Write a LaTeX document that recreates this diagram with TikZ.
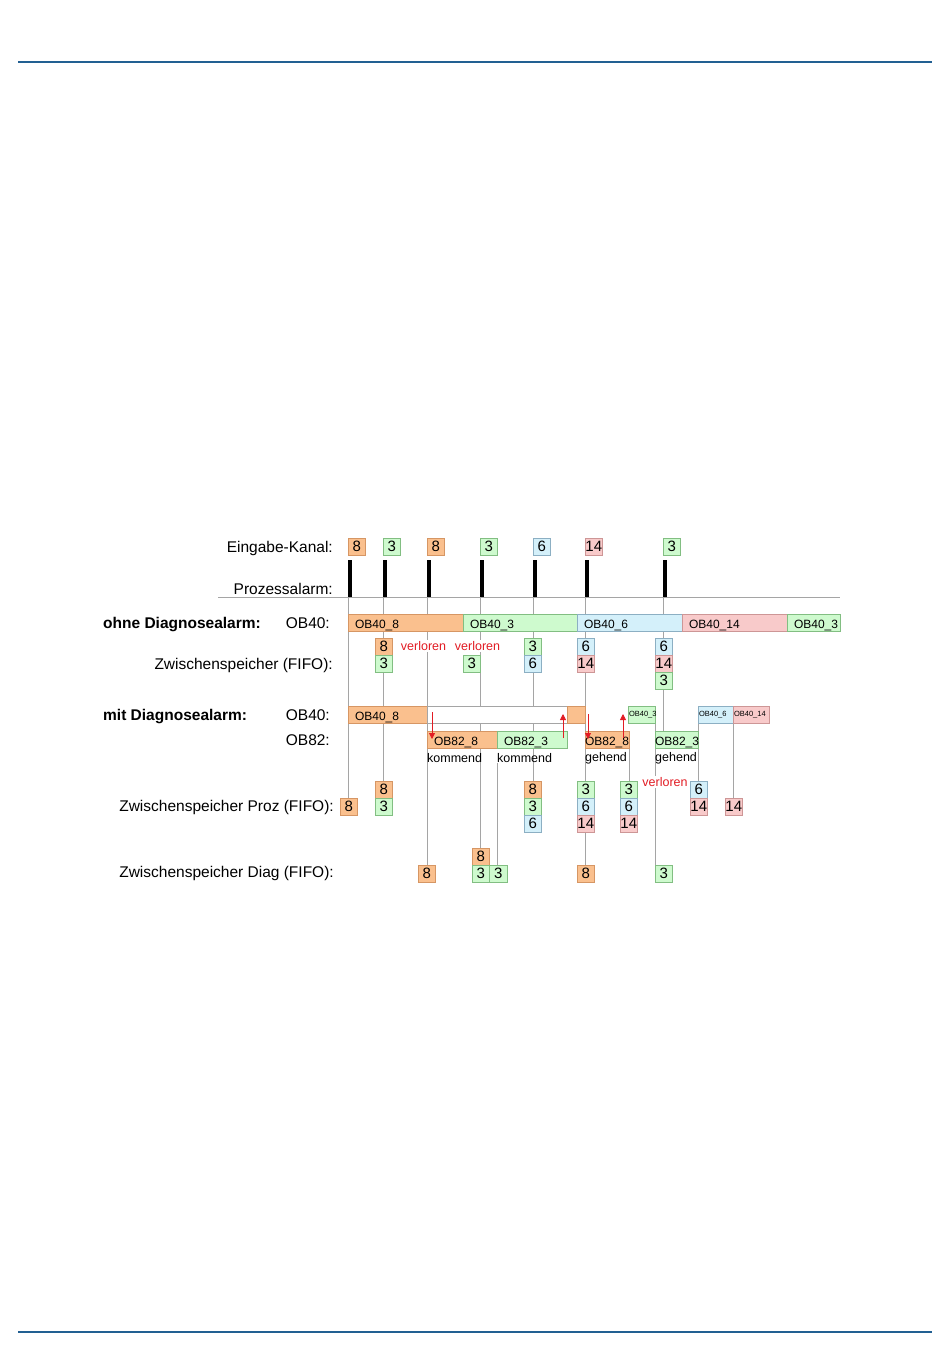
\documentclass[tikz,border=0pt]{standalone}
\usepackage{fontspec}
\setmainfont{Liberation Sans}
\usetikzlibrary{arrows.meta, positioning, backgrounds}
\definecolor{orgF}{RGB}{250,192,142}
\definecolor{orgD}{RGB}{214,150,100}
\definecolor{grnF}{RGB}{206,250,206}
\definecolor{grnD}{RGB}{130,190,130}
\definecolor{bluF}{RGB}{212,240,250}
\definecolor{bluD}{RGB}{140,175,195}
\definecolor{pnkF}{RGB}{248,202,202}
\definecolor{pnkD}{RGB}{205,150,150}
\definecolor{guideC}{RGB}{165,165,165}
\definecolor{lostC}{RGB}{226,28,36}
\definecolor{ruleC}{RGB}{34,96,146}

\begin{document}
\begin{tikzpicture}[x=1pt, y=-1pt, >={Triangle[length=6pt, width=6pt]},
  lbl/.style={anchor=base east, inner sep=0pt, font=\fontsize{15.5}{15.5}\selectfont},
  head/.style={anchor=base west, inner sep=0pt, font=\bfseries\fontsize{15.5}{15.5}\selectfont},
  num/.style={draw, anchor=north west, minimum width=17.5pt, minimum height=17pt, inner sep=0pt, outer sep=0pt, font=\fontsize{15}{15}\selectfont},
  bar/.style={draw, anchor=north west, minimum height=17pt, inner ysep=0pt, inner xsep=7pt, outer sep=0pt, align=left, text height=12pt, text depth=1pt, font=\fontsize{12}{12}\selectfont},
  tiny/.style={bar, inner xsep=1pt, text height=5.5pt, text depth=1.6pt, font=\fontsize{7.5}{7.5}\selectfont},
  gapbox/.style={draw=guideC, fill=white, minimum height=17pt, inner sep=0pt, outer sep=0pt},
  note/.style={anchor=west, inner sep=0pt, font=\fontsize{12.5}{12.5}\selectfont},
  lost/.style={note, anchor=center, text=lostC, fill=white, inner sep=1pt},
  org/.style={fill=orgF, draw=orgD}, grn/.style={fill=grnF, draw=grnD},
  blu/.style={fill=bluF, draw=bluD}, pnk/.style={fill=pnkF, draw=pnkD},
  tick/.style={line width=4pt},
  guide/.style={draw=guideC, line width=0.9pt},
  trig/.style={draw=lostC, line width=0.8pt, ->}]
\useasboundingbox (0,0) rectangle (950,1369);
\draw[ruleC, line width=2.5pt] (18,62) -- (932,62);
\draw[ruleC, line width=2.5pt] (18,1332) -- (932,1332);

% time marks
\coordinate (ax0) at (218,597); \coordinate (ax1) at (840,597);
\coordinate (t1) at (348,597); \coordinate (t2) at (383,597); \coordinate (t3) at (427,597);
\coordinate (t4) at (480,597); \coordinate (t5) at (533,597); \coordinate (t6) at (585,597);
\coordinate (t7) at (663,597);

% labels
\node[lbl] (lEin) at (333,552) {Eingabe-Kanal:};
\node[lbl] (lPro) at (333,594) {Prozessalarm:};
\node[head] (hOhne) at (103,628) {ohne Diagnosealarm:};
\node[lbl] (lObA) at (330,628) {OB40:};
\node[lbl] (lFifo) at (333,669) {Zwischenspeicher (FIFO):};
\node[head] (hMit) at (103,720) {mit Diagnosealarm:};
\node[lbl] (lObB) at (330,720) {OB40:};
\node[lbl] (lObC) at (330,745) {OB82:};
\node[lbl] (lProz) at (334,811) {Zwischenspeicher Proz (FIFO):};
\node[lbl] (lDiag) at (334,877) {Zwischenspeicher Diag (FIFO):};

% input channel
\node[num, org] (e1) at (348,538) {8};
\node[num, grn] (e2) at (383,538) {3};
\node[num, org] (e3) at (427,538) {8};
\node[num, grn] (e4) at (480,538) {3};
\node[num, blu] (e5) at (533,538) {6};
\node[num, pnk] (e6) at (585,538) {14};
\node[num, grn] (e7) at (663,538) {3};
\draw[tick] ([xshift=2pt, yshift=-5pt]e1.south west) -- ([xshift=2pt]t1);
\draw[tick] ([xshift=2pt, yshift=-5pt]e2.south west) -- ([xshift=2pt]t2);
\draw[tick] ([xshift=2pt, yshift=-5pt]e3.south west) -- ([xshift=2pt]t3);
\draw[tick] ([xshift=2pt, yshift=-5pt]e4.south west) -- ([xshift=2pt]t4);
\draw[tick] ([xshift=2pt, yshift=-5pt]e5.south west) -- ([xshift=2pt]t5);
\draw[tick] ([xshift=2pt, yshift=-5pt]e6.south west) -- ([xshift=2pt]t6);
\draw[tick] ([xshift=2pt, yshift=-5pt]e7.south west) -- ([xshift=2pt]t7);

% ohne Diagnosealarm
\node[bar, org, text width=101pt] (o8) at (348,614) {OB40\_8};
\node[bar, grn, text width=100pt, right=0pt of o8] (o3) {OB40\_3};
\node[bar, blu, text width=91pt, right=0pt of o3] (o6) {OB40\_6};
\node[bar, pnk, text width=91pt, right=0pt of o6] (o14) {OB40\_14};
\node[bar, grn, text width=39pt, right=0pt of o14] (o3b) {OB40\_3};
\node[num, org] (fa1) at (375,638) {8};
\node[num, grn, below=0pt of fa1] (fa2) {3};
\node[num, grn] (fb1) at (463,655) {3};
\node[num, grn] (fc1) at (524,638) {3};
\node[num, blu, below=0pt of fc1] (fc2) {6};
\node[num, blu] (fd1) at (577,638) {6};
\node[num, pnk, below=0pt of fd1] (fd2) {14};
\node[num, blu] (fe1) at (655,638) {6};
\node[num, pnk, below=0pt of fe1] (fe2) {14};
\node[num, grn, below=0pt of fe2] (fe3) {3};
\node[lost] (v1) at (423.5,646) {verloren};
\node[lost] (v2) at (477.5,646) {verloren};

% mit Diagnosealarm
\node[bar, org, text width=65pt] (m8) at (348,706) {OB40\_8};
\node[gapbox, minimum width=140pt, right=0pt of m8] (gap) {};
\node[bar, org, text width=4pt, right=0pt of gap] (m8b) {};
\node[tiny, grn, text width=25pt] (s3) at (628,706) {OB40\_3};
\node[tiny, blu, text width=33pt] (s6) at (698,706) {OB40\_6};
\node[tiny, pnk, text width=34pt, right=0pt of s6] (s14) {OB40\_14};
\node[bar, org, text width=56pt] (k8) at (427,731) {OB82\_8};
\node[bar, grn, text width=56pt, right=0pt of k8] (k3) {OB82\_3};
\node[bar, org, inner xsep=0pt, text width=44pt] (g8) at (585,731) {OB82\_8};
\node[bar, grn, inner xsep=0pt, text width=43pt] (g3) at (655,731) {OB82\_3};
\node[note] (nk8) at (427,758) {kommend};
\node[note] (nk3) at (497,758) {kommend};
\node[note] (ng8) at (585,758) {gehend};
\node[note] (ng3) at (655,758) {gehend};
\node[lost] (v3) at (665,782) {verloren};
\coordinate (a1) at (432,712); \coordinate (a1e) at (432,739);
\coordinate (a2) at (563,738); \coordinate (a2e) at (563,714);
\coordinate (a3) at (588,714); \coordinate (a3e) at (588,739);
\coordinate (a4) at (623,738); \coordinate (a4e) at (623,714);
\draw[trig] (a1) -- (a1e); \draw[trig] (a2) -- (a2e);
\draw[trig] (a3) -- (a3e); \draw[trig] (a4) -- (a4e);

% Zwischenspeicher Proz
\node[num, org] (pa) at (340,798) {8};
\node[num, org] (pb1) at (375,781) {8};
\node[num, grn, below=0pt of pb1] (pb2) {3};
\node[num, org] (pc1) at (524,781) {8};
\node[num, grn, below=0pt of pc1] (pc2) {3};
\node[num, blu, below=0pt of pc2] (pc3) {6};
\node[num, grn] (pd1) at (577,781) {3};
\node[num, blu, below=0pt of pd1] (pd2) {6};
\node[num, pnk, below=0pt of pd2] (pd3) {14};
\node[num, grn] (pe1) at (620,781) {3};
\node[num, blu, below=0pt of pe1] (pe2) {6};
\node[num, pnk, below=0pt of pe2] (pe3) {14};
\node[num, blu] (pf1) at (690,781) {6};
\node[num, pnk, below=0pt of pf1] (pf2) {14};
\node[num, pnk] (pg) at (725,798) {14};

% Zwischenspeicher Diag
\node[num, org] (da) at (418,865) {8};
\node[num, org] (db1) at (472,848) {8};
\node[num, grn, below=0pt of db1] (db2) {3};
\node[num, grn, right=0pt of db2] (db3) {3};
\node[num, org] (dc) at (577,865) {8};
\node[num, grn] (dd) at (655,865) {3};

\begin{scope}[on background layer]
\draw[guide] (ax0) -- (ax1);
\draw[guide] (t1) -- (t1 |- pa.north); \draw[guide] (t2) -- (t2 |- pb1.north);
\draw[guide] (t3) -- (t3 |- da.north); \draw[guide] (t4) -- (t4 |- db1.north);
\draw[guide] (t5) -- (t5 |- pc1.north); \draw[guide] (t6) -- (t6 |- dc.north);
\draw[guide] (t7) -- (t7 |- g3.north);
\draw[guide] (nk3.south west) -- (nk3.south west |- db3.north);
\draw[guide] (s3.south east) -- (dd.north west);
\draw[guide] (g8.south east) -- (g8.south east |- pe1.north);
\draw[guide] (s6.south west) -- (s6.south west |- pf1.north);
\draw[guide] (s14.south west) -- (s14.south west |- pg.north);
\end{scope}
\end{tikzpicture}
\end{document}
